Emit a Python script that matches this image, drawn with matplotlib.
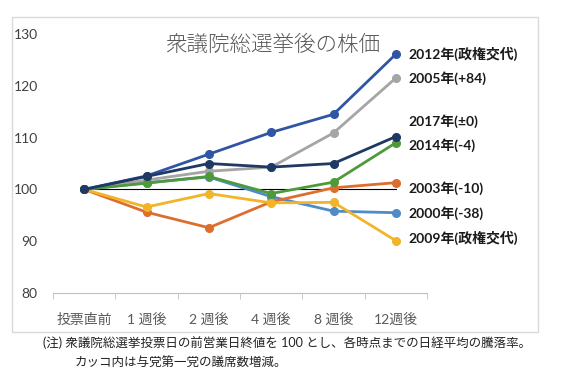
import matplotlib
matplotlib.use("Agg")
import matplotlib.pyplot as plt
from matplotlib.patches import Rectangle

plt.rcParams['font.family'] = ['Lato', 'Noto Sans CJK JP', 'DejaVu Sans']

# ---- data (日経平均, 投票直前 = 100) ----
CATEGORIES = ['投票直前', '1 週後', '2 週後', '4 週後', '8 週後', '12週後']

S2000 = [100, 101.3, 102.4, 98.6, 95.8, 95.5]
S2003 = [100, 95.6, 92.6, 97.6, 100.3, 101.3]
S2005 = [100, 101.8, 103.5, 104.3, 110.9, 121.5]
S2009 = [100, 96.6, 99.2, 97.4, 97.5, 90.1]
S2012 = [100, 102.6, 106.8, 111.0, 114.5, 126.1]
S2014 = [100, 101.2, 102.5, 99.2, 101.4, 109.0]
S2017 = [100, 102.5, 105.0, 104.3, 105.0, 110.2]

SERIES_LABELS = ['2000年(-38)', '2003年(-10)', '2005年(+84)', '2009年(政権交代)',
                 '2012年(政権交代)', '2014年(-4)', '2017年(±0)']
SERIES = [S2000, S2003, S2005, S2009, S2012, S2014, S2017]

# 描画スタイル (色, ラベル y 位置)
COLORS = ['#4F8BC9', '#DC6E2E', '#A5A5A5', '#F2B52A', '#2F55A4', '#4E9A3A', '#1F3864']
LABEL_Y = [95.5, 100.2, 121.5, 90.7, 126.1, 108.5, 113.2]

fig = plt.figure(figsize=(5.61, 3.9), dpi=100)
W, H = 561, 390

# 外枠
fig.patches.append(Rectangle((12 / W, 1 - 332 / H), 526 / W, 315 / H,
                             transform=fig.transFigure, fill=False,
                             edgecolor='#D9D9D9', lw=1.0))

ax = fig.add_axes([53 / W, 1 - 293 / H, 374 / W, 259 / H])
x = list(range(len(CATEGORIES)))

ax.plot([0, 5], [100, 100], color='black', lw=0.8, zorder=1)
for ys, c in zip(SERIES, COLORS):
    ax.plot(x, ys, color=c, lw=2.0, marker='o', markersize=5.5,
            markeredgecolor=c, zorder=2)

for ys, lab, ly in zip(SERIES, SERIES_LABELS, LABEL_Y):
    ax.text(5.2, ly, lab, fontsize=10, fontweight='bold', color='#1a1a1a',
            va='center', ha='left', clip_on=False)

ax.set_xlim(-0.5, 5.5)
ax.set_ylim(80, 130)
ax.set_yticks([80, 90, 100, 110, 120, 130])
ax.set_xticks(x)
ax.set_xticklabels(CATEGORIES, fontsize=10, color='#595959')
ax.set_xticks([i - 0.5 for i in range(len(CATEGORIES) + 1)], minor=True)
ax.tick_params(axis='x', which='major', length=0, pad=14)
ax.tick_params(axis='x', which='minor', length=4, color='#BFBFBF')
ax.tick_params(axis='y', length=0, pad=11, labelsize=10, labelcolor='#404040')

for side in ['top', 'right', 'left']:
    ax.spines[side].set_visible(False)
ax.spines['bottom'].set_color('#BFBFBF')
ax.patch.set_alpha(0)

fig.text(273 / W, 1 - 45 / H, '衆議院総選挙後の株価', fontsize=15.5,
         color='#595959', ha='center', va='center', fontweight='light')

fig.text(43 / W, 1 - 343 / H,
         '(注) 衆議院総選挙投票日の前営業日終値を 100 とし、各時点までの日経平均の騰落率。',
         fontsize=9.0, color='#222222', ha='left', va='center')
fig.text(75 / W, 1 - 363 / H, 'カッコ内は与党第一党の議席数増減。',
         fontsize=9.0, color='#222222', ha='left', va='center')

fig.savefig('out.png', dpi=100)
